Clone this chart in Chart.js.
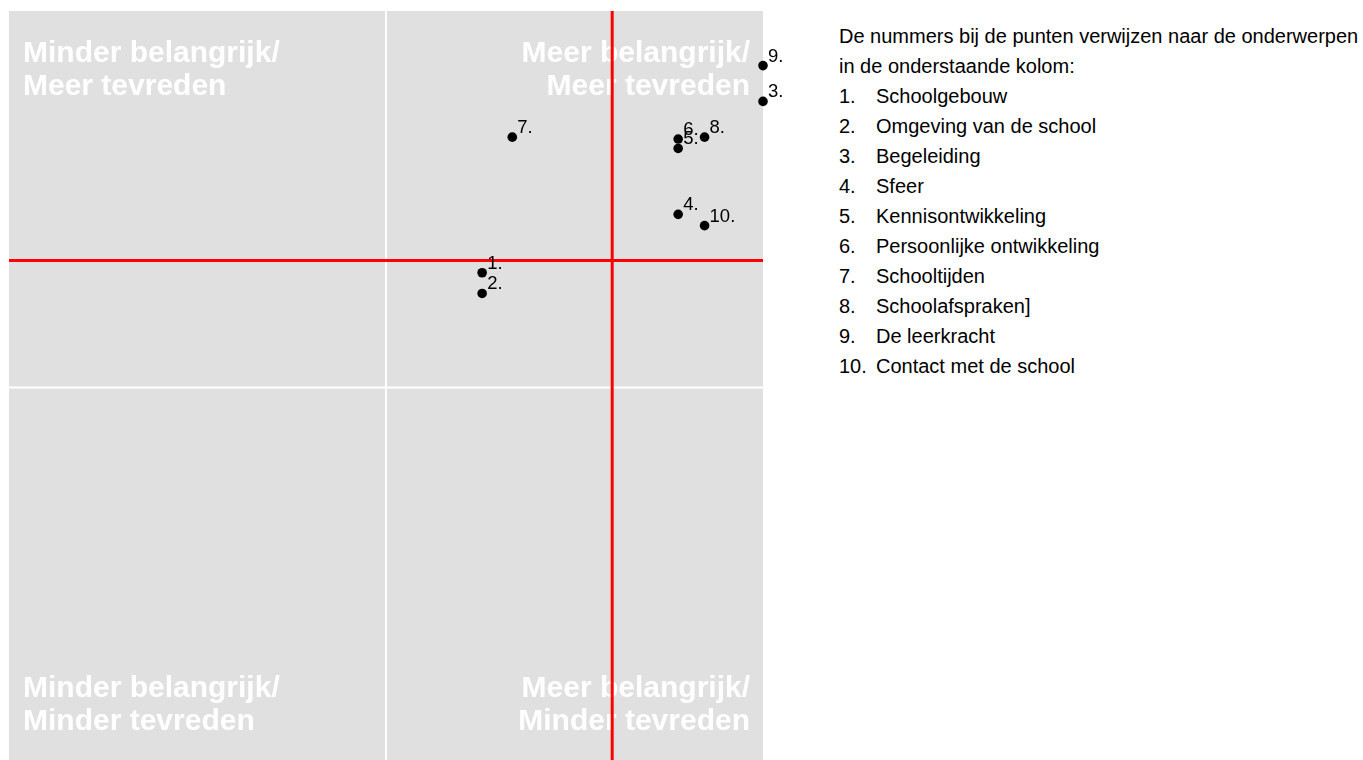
<!DOCTYPE html>
<html>
<head>
<meta charset="utf-8">
<script src="https://cdn.jsdelivr.net/npm/chart.js@4/dist/chart.umd.min.js"></script>
<style>
  body { margin: 0; overflow: hidden; background: #fff; font-family: 'Liberation Sans', Arial, sans-serif; }
  #chart1 { position: absolute; left: 0; top: 0; }
  #side { position: absolute; left: 839px; top: 21px; font-size: 20px; line-height: 30px; color: #000; white-space: nowrap; }
  #side .row span { display: inline-block; width: 37px; }
</style>
</head>
<body>
<canvas id="chart1" width="810" height="769"></canvas>
<div id="side"></div>
<script>
const pointLabels = ['1.', '2.', '3.', '4.', '5.', '6.', '7.', '8.', '9.', '10.'];
const importance = [3.51, 3.51, 5.0, 4.55, 4.55, 4.55, 3.67, 4.69, 5.0, 4.69];
const satisfaction = [3.61, 3.50, 4.52, 3.92, 4.27, 4.32, 4.33, 4.33, 4.71, 3.86];
const meanImportance = 4.2;
const meanSatisfaction = 3.675;
const axisMin = 1;
const axisMax = 5;

const topics = ['Schoolgebouw', 'Omgeving van de school', 'Begeleiding', 'Sfeer', 'Kennisontwikkeling',
  'Persoonlijke ontwikkeling', 'Schooltijden', 'Schoolafspraken]', 'De leerkracht', 'Contact met de school'];
const introLines = ['De nummers bij de punten verwijzen naar de onderwerpen', 'in de onderstaande kolom:'];
const quadrantText = {
  tl: ['Minder belangrijk/', 'Meer tevreden'],
  tr: ['Meer belangrijk/', 'Meer tevreden'],
  bl: ['Minder belangrijk/', 'Minder tevreden'],
  br: ['Meer belangrijk/', 'Minder tevreden']
};

// side text
const side = document.getElementById('side');
introLines.forEach(t => {
  const d = document.createElement('div');
  d.textContent = t;
  side.appendChild(d);
});
topics.forEach((t, i) => {
  const d = document.createElement('div');
  d.className = 'row';
  const n = document.createElement('span');
  n.textContent = pointLabels[i];
  d.appendChild(n);
  d.appendChild(document.createTextNode(t));
  side.appendChild(d);
});

const quadrantPlugin = {
  id: 'quadrants',
  beforeDatasetsDraw(chart) {
    const { ctx, chartArea: a, scales } = chart;
    const midX = scales.x.getPixelForValue((axisMin + axisMax) / 2);
    const midY = scales.y.getPixelForValue((axisMin + axisMax) / 2);
    ctx.save();
    ctx.fillStyle = '#e0e0e0';
    ctx.fillRect(a.left, a.top, a.right - a.left, a.bottom - a.top);
    ctx.strokeStyle = '#ffffff';
    ctx.lineWidth = 2;
    ctx.beginPath();
    ctx.moveTo(midX, a.top); ctx.lineTo(midX, a.bottom);
    ctx.moveTo(a.left, midY); ctx.lineTo(a.right, midY);
    ctx.stroke();

    ctx.fillStyle = '#ffffff';
    ctx.font = "bold 30px 'Liberation Sans', Arial, sans-serif";
    ctx.textBaseline = 'alphabetic';
    const lh = 33;
    ctx.textAlign = 'left';
    quadrantText.tl.forEach((t, i) => ctx.fillText(t, a.left + 14, a.top + 51 + i * lh));
    quadrantText.bl.forEach((t, i) => ctx.fillText(t, a.left + 14, a.bottom - 67 + i * lh));
    ctx.textAlign = 'right';
    quadrantText.tr.forEach((t, i) => ctx.fillText(t, a.right - 13, a.top + 51 + i * lh));
    quadrantText.br.forEach((t, i) => ctx.fillText(t, a.right - 13, a.bottom - 67 + i * lh));
    ctx.restore();
  },
  afterDatasetsDraw(chart) {
    const { ctx, scales } = chart;
    ctx.save();
    ctx.fillStyle = '#000';
    ctx.font = "18.5px 'Liberation Sans', Arial, sans-serif";
    ctx.textAlign = 'left';
    ctx.textBaseline = 'alphabetic';
    pointLabels.forEach((lab, i) => {
      const px = scales.x.getPixelForValue(importance[i]);
      const py = scales.y.getPixelForValue(satisfaction[i]);
      ctx.fillText(lab, px + 5, py - 4);
    });
    ctx.restore();
  }
};

new Chart(document.getElementById('chart1').getContext('2d'), {
  type: 'scatter',
  data: {
    datasets: [
      {
        data: importance.map((x, i) => ({ x: x, y: satisfaction[i] })),
        pointRadius: 4.8,
        pointBackgroundColor: '#000',
        pointBorderWidth: 0,
        clip: false,
        order: 1
      },
      {
        type: 'line',
        data: [{ x: meanImportance, y: axisMin }, { x: meanImportance, y: axisMax }],
        borderColor: '#ff0000',
        borderWidth: 3,
        pointRadius: 0,
        clip: false,
        order: 2
      },
      {
        type: 'line',
        data: [{ x: axisMin, y: meanSatisfaction }, { x: axisMax, y: meanSatisfaction }],
        borderColor: '#ff0000',
        borderWidth: 3,
        pointRadius: 0,
        clip: false,
        order: 2
      }
    ]
  },
  options: {
    responsive: false,
    animation: false,
    layout: { padding: { left: 9, top: 11, right: 47, bottom: 2 } },
    plugins: { legend: { display: false }, tooltip: { enabled: false } },
    scales: {
      x: { type: 'linear', min: axisMin, max: axisMax, display: false },
      y: { type: 'linear', min: axisMin, max: axisMax, display: false }
    }
  },
  plugins: [quadrantPlugin]
});
</script>
</body>
</html>
